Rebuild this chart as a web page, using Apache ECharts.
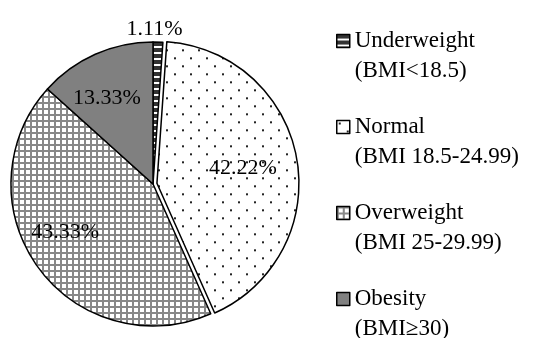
<!DOCTYPE html>
<html>
<head>
<meta charset="utf-8">
<script src="https://cdn.jsdelivr.net/npm/echarts@6/dist/echarts.min.js"></script>
<style>
  html, body { margin: 0; padding: 0; background: #fff; }
  #chart { width: 542px; height: 338px; }
</style>
</head>
<body>
<div id="chart"></div>
<script>
// BMI groups and their share of participants (%)
const categories = ['Underweight', 'Normal', 'Overweight', 'Obesity'];
const bmiRanges = ['(BMI<18.5)', '(BMI 18.5-24.99)', '(BMI 25-29.99)', '(BMI\u226530)'];
const shares = [1.11, 42.22, 43.33, 13.33];

const FONT = '"Liberation Serif", "Times New Roman", serif';

// Fill patterns drawn on small canvases and tiled by ECharts
function makeTile(w, h, draw) {
  const c = document.createElement('canvas');
  c.width = w; c.height = h;
  const ctx = c.getContext('2d');
  ctx.fillStyle = '#fff';
  ctx.fillRect(0, 0, w, h);
  draw(ctx);
  return { image: c, repeat: 'repeat' };
}

const stripes = makeTile(6, 6, ctx => {
  ctx.fillStyle = '#333';
  ctx.fillRect(0, 0, 6, 4);
});
const dots = makeTile(16, 16, ctx => {
  ctx.fillStyle = '#222';
  ctx.fillRect(2, 2, 2, 2);
  ctx.fillRect(10, 10, 2, 2);
});
const grid = makeTile(6, 6, ctx => {
  ctx.fillStyle = '#888';
  ctx.fillRect(0, 0, 6, 2);
  ctx.fillRect(0, 0, 2, 6);
});
const fills = [stripes, dots, grid, '#808080'];

// Label nudges away from the default mid-radius position
const labelShift = [[-1, -81], [13, -2], [-28, 5], [-16, -18]];

const chart = echarts.init(document.getElementById('chart'), null, { renderer: 'canvas' });

chart.setOption({
  animation: false,
  backgroundColor: '#fff',
  legend: {
    orient: 'vertical',
    left: 331,
    top: -9,
    height: 1000,
    itemWidth: 13,
    itemHeight: 13,
    itemGap: -4,
    selectedMode: false,
    icon: 'rect',
    data: categories,
    // a blank first line keeps the swatch level with the group name
    formatter: name => ' \n' + name + '\n' + bmiRanges[categories.indexOf(name)],
    textStyle: {
      fontFamily: FONT,
      fontSize: 23,
      color: '#000',
      lineHeight: 30
    },
    itemStyle: { borderColor: '#000', borderWidth: 1.5 }
  },
  series: [{
    type: 'pie',
    center: [153, 184],
    radius: 142,
    startAngle: 90,
    clockwise: true,
    selectedMode: 'single',
    selectedOffset: 4,
    emphasis: { disabled: true },
    itemStyle: { borderColor: '#000', borderWidth: 1.5 },
    label: {
      show: true,
      position: 'inside',
      fontFamily: FONT,
      fontSize: 22,
      color: '#000',
      formatter: p => p.value.toFixed(2) + '%'
    },
    labelLine: { show: false },
    labelLayout: params => ({ dx: labelShift[params.dataIndex][0], dy: labelShift[params.dataIndex][1] }),
    data: categories.map((name, i) => ({
      name: name,
      value: shares[i],
      selected: name === 'Normal',
      itemStyle: { color: fills[i] }
    }))
  }]
});
</script>
</body>
</html>
